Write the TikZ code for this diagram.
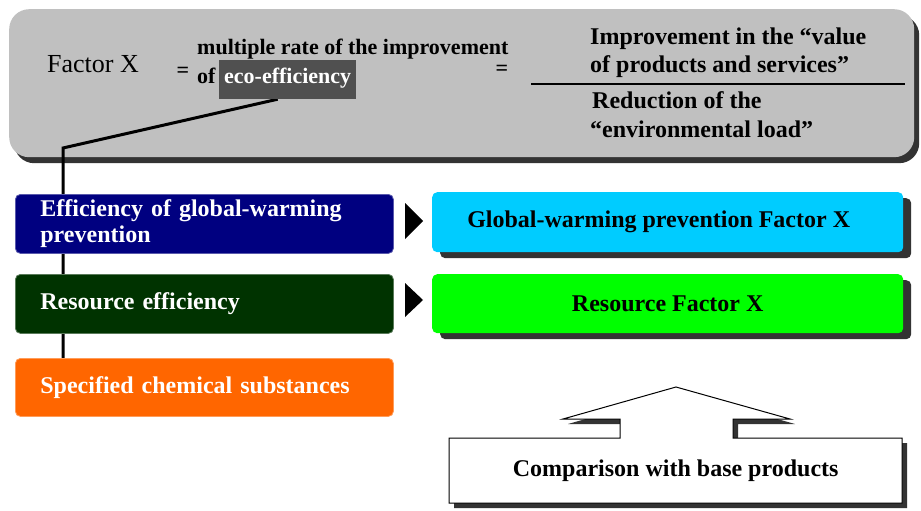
\documentclass[tikz,border=0pt]{standalone}
\usepackage{fontspec}
\setmainfont{Liberation Serif}
\usetikzlibrary{shadows,calc}
\pgfdeclarelayer{bg}\pgfdeclarelayer{mid}
\pgfsetlayers{bg,mid,main}
\definecolor{topgray}{HTML}{C0C0C0}
\definecolor{shd}{HTML}{333333}
\definecolor{ecogray}{HTML}{505050}
\definecolor{navyb}{HTML}{000080}
\definecolor{dgreen}{HTML}{003300}
\definecolor{orangeb}{HTML}{FF6600}
\definecolor{cyanb}{HTML}{00CCFF}
\definecolor{limeb}{HTML}{00FF00}
\begin{document}
\begin{tikzpicture}[x=1pt,y=-1pt,
  bigtxt/.style={font=\fontsize{24}{26}\selectfont\bfseries},
  mtxt/.style={font=\fontsize{22}{28}\selectfont\bfseries},
  ftxt/.style={anchor=base west, inner sep=0pt, bigtxt},
  eqsign/.style={font=\fontsize{22}{24}\selectfont\bfseries, inner sep=0pt},
  topbox/.style={anchor=north west, rounded corners=20pt, minimum width=905pt, minimum height=148pt, inner sep=0pt, fill=topgray,
     drop shadow={shadow xshift=5pt, shadow yshift=-6pt, fill=shd, opacity=1}},
  leftbox/.style={rounded corners=5pt, minimum width=378pt, minimum height=59pt, text width=328pt, inner xsep=25pt, inner ysep=0pt,
     align=left, text=white, bigtxt, anchor=north west, line width=0.8pt},
  rightbox/.style={rounded corners=5pt, minimum width=471pt, minimum height=60pt, inner sep=0pt, align=center, bigtxt, anchor=north west,
     drop shadow={shadow xshift=8pt, shadow yshift=-6pt, fill=shd, opacity=1}},
  tri/.style={fill=black},
  callout/.style={fill=white, draw=black, line width=1pt},
  calloutshadow/.style={fill=shd}
]
\useasboundingbox (0,0) rectangle (921,511);

\begin{pgfonlayer}{bg}
\node[topbox] (top) at (9,9) {};
\end{pgfonlayer}

\node[anchor=base west, inner sep=0pt, font=\fontsize{26}{28}\selectfont] (fx) at (47,73) {Factor X};
\node[eqsign] (eq1) at (183,72) {=};
\node[anchor=base west, inner sep=0pt, mtxt] (mr) at (197,55) {multiple rate of the improvement};
\node[anchor=base west, inner sep=0pt, mtxt] (of) at (197,83) {of};
\node[anchor=base west, inner sep=0pt, minimum width=137pt, text height=23pt, text depth=16pt, fill=ecogray, text=white, mtxt] (eco) at (219,83) {eco-efficiency};
\node[eqsign] (eq2) at (502,70) {=};
\node[ftxt] (num1) at (590,45) {Improvement in the “value};
\node[ftxt] (num2) at (590,73) {of products and services”};
\coordinate (fl) at (531,84);
\coordinate (fr) at (905,84);
\draw[line width=1pt] (fl) -- (fr);
\node[ftxt] (den1) at (592,108) {Reduction of the};
\node[ftxt] (den2) at (590,137) {“environmental load”};

\node[leftbox, fill=navyb, draw=navyb!65!white] (lb1) at (15,194) {Efficiency of global-warming\\prevention};
\node[leftbox, fill=dgreen, draw=dgreen!65!white] (lb2) at (15,274) {Resource efficiency};
\node[leftbox, fill=orangeb, draw=orangeb!65!white, minimum height=58pt] (lb3) at (15,358) {Specified chemical substances};

\begin{pgfonlayer}{mid}
\coordinate (bend) at (63,148);
\draw[line width=3pt] ([xshift=-10pt]eco.south) -- (bend) -- (bend |- lb3.north);
\end{pgfonlayer}

\fill[tri] (405,203) -- (405,239) -- (423,221) -- cycle;
\fill[tri] (405,283) -- (405,317) -- (423,300) -- cycle;

\node[rightbox, fill=cyanb] (rb1) at (432,192) {Global-warming prevention Factor X\hspace*{18pt}};
\node[rightbox, fill=limeb, minimum height=59pt] (rb2) at (432,274) {Resource Factor X};

\node[bigtxt, minimum width=453pt, minimum height=65pt, inner sep=0pt, anchor=north west] (cmp) at (449,438) {Comparison with base products};
\begin{pgfonlayer}{mid}
\fill[calloutshadow, shift={(5,5)}] (449,438) -- (620,438) -- (620,419) -- (563,419) -- (676,387) -- (790,419) -- (733,419) -- (733,438) -- (902,438) -- (902,503) -- (449,503) -- cycle;
\path[callout] (449,438) -- (620,438) -- (620,419) -- (563,419) -- (676,387) -- (790,419) -- (733,419) -- (733,438) -- (902,438) -- (902,503) -- (449,503) -- cycle;
\end{pgfonlayer}
\end{tikzpicture}
\end{document}
